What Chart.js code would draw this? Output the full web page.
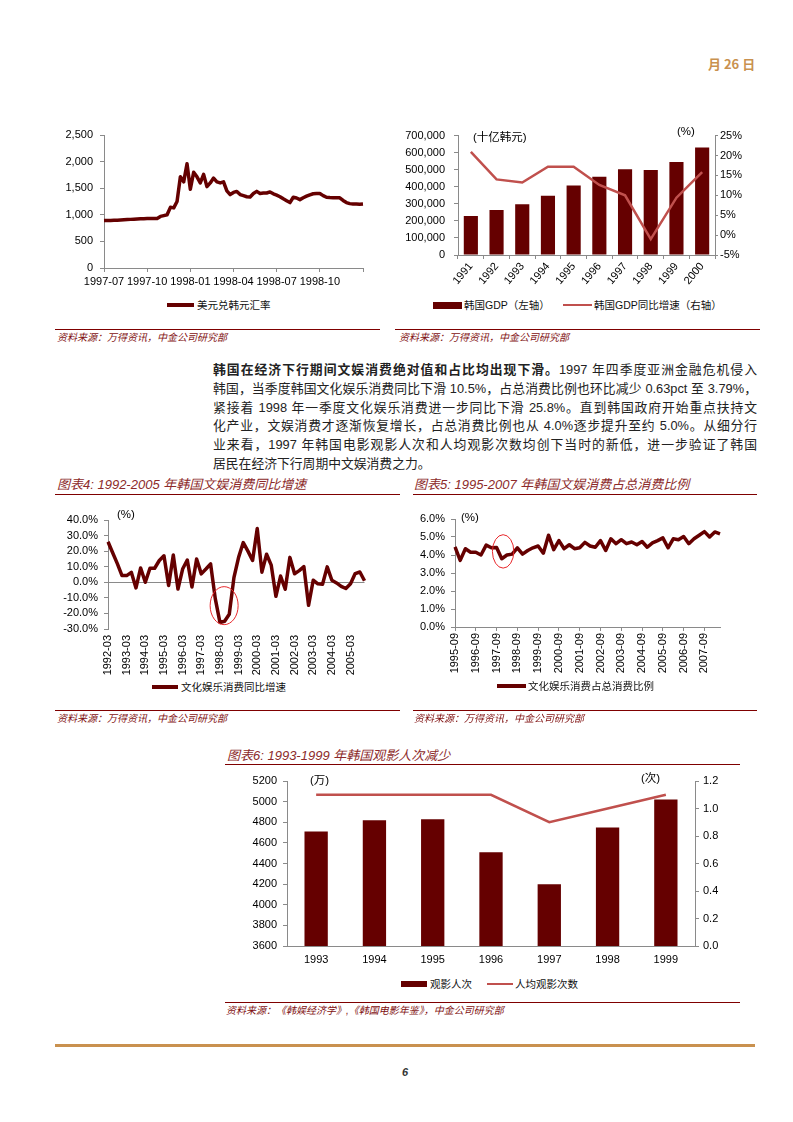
<!DOCTYPE html>
<html>
<head>
<meta charset="utf-8">
<script src="https://cdn.jsdelivr.net/npm/chart.js@4.4.1/dist/chart.umd.min.js"></script>
<style>
  body { margin: 0; background: #fff; }
  #page { position: relative; width: 793px; height: 1122px; overflow: hidden; background: #fff;
          font-family: 'Liberation Sans', 'Noto Sans CJK SC', sans-serif; }
  .t { position: absolute; line-height: 1; white-space: nowrap; transform: translateY(-50%); }
  .box { position: absolute; }
  .box canvas { display: block; }
  .rule { position: absolute; height: 0; border-top: 1px solid #7f0000; }
  .ttl { font-size: 13px; font-style: italic; color: #8c2a2a; }
  .src { font-size: 10px; font-style: italic; color: #7f1010; }
  .lg { font-size: 10.5px; color: #111; }
  .ann { font-size: 11px; color: #000; }
  .para { position: absolute; left: 213px; width: 544px; font-size: 12.8px; color: #222; line-height: 1;
          text-align: justify; text-align-last: justify; transform: translateY(-50%); }
</style>
</head>
<body>
<div id="page"></div>
<script>
// ---- data ----
// USD/KRW, roughly weekly from 1997-07 to end of 1998
const fxTicks = ['1997-07', '1997-10', '1998-01', '1998-04', '1998-07', '1998-10'];
const fxRate = [891, 893, 895, 897, 899, 902, 906, 910, 914, 918, 922, 925, 927,
  929, 930, 930, 932, 970, 985, 1000, 1140, 1130, 1250, 1714, 1620, 1960,
  1480, 1800, 1714, 1600, 1760, 1530, 1600, 1690, 1620, 1600, 1620, 1450, 1380,
  1420, 1440, 1380, 1360, 1340, 1335, 1400, 1440, 1400, 1410, 1410, 1430, 1395,
  1370, 1340, 1300, 1265, 1230, 1330, 1315, 1285, 1320, 1350, 1375, 1395, 1400,
  1400, 1360, 1330, 1325, 1322, 1320, 1320, 1270, 1230, 1210, 1205, 1205, 1200, 1205];

const gdpYears = ['1991', '1992', '1993', '1994', '1995', '1996', '1997', '1998', '1999', '2000'];
const gdpValue = [229000, 264000, 297000, 347000, 407000, 459000, 502000, 498000, 545000, 630000];
const gdpGrowth = [20.9, 14.0, 13.2, 17.2, 17.2, 12.6, 10.0, -1.0, 9.4, 15.8];

const entYears = [1992, 1993, 1994, 1995, 1996, 1997, 1998, 1999, 2000, 2001, 2002, 2003, 2004, 2005];
const quarterMonths = ['03', '06', '09', '12'];
const entGrowth = [26, 19, 12, 4.3, 4.3, 6.4, -3.6, 9.2, 0, 9, 9, 14, 17, -2, 17.5, -4.3,
  8.5, 14.3, -3, 15, 5.4, 8.5, 11.8, -10.5, -25.8, -25, -20.5, 3, 16, 25.5, 20, 14,
  34.5, 6.5, 18, 11, -9, 4, -4.5, 16, 5.5, 7.5, 10, -14.8, 1.3, -1, -1.3, 9.9,
  1.3, -0.4, -2.6, -4, -1, 5.6, 6.6, 1];

const shareStartYear = 1995;
const shareShare = [4.45, 3.7, 4.35, 4.15, 4.15, 4.0, 4.55, 4.4, 4.42, 3.79, 4.0, 4.05, 4.4,
  4.05, 4.25, 4.4, 4.5, 4.1, 5.1, 4.3, 4.8, 4.35, 4.57, 4.35, 4.4, 4.7, 4.5, 4.43,
  4.8, 4.25, 4.9, 4.63, 4.85, 4.63, 4.72, 4.57, 4.75, 4.43, 4.67, 4.8, 4.95, 4.4,
  4.9, 4.85, 5.03, 4.63, 4.9, 5.1, 5.3, 5.0, 5.28, 5.17];

const movieYears = ['1993', '1994', '1995', '1996', '1997', '1998', '1999'];
const movieAdmissions = [4710, 4820, 4830, 4510, 4200, 4750, 5020];
const moviePerCapita = [1.1, 1.1, 1.1, 1.1, 0.9, 1.0, 1.1];

// ---- page helpers ----
const MAROON = '#650000';
const LIGHTRED = '#c0504d';
const AXIS = '#8a8a8a';
const page = document.getElementById('page');

Chart.defaults.font.family = "'Liberation Sans', 'Noto Sans CJK SC', sans-serif";
Chart.defaults.font.size = 11;
Chart.defaults.color = '#000';

function text(s, x, y, cls, css) {
  const d = document.createElement('div');
  d.className = 't ' + (cls || '');
  d.style.left = x + 'px';
  d.style.top = y + 'px';
  if (css) d.style.cssText += css;
  d.innerHTML = s;
  page.appendChild(d);
}
function rule(x1, x2, y, css) {
  const d = document.createElement('div');
  d.className = 'rule';
  d.style.left = x1 + 'px';
  d.style.width = (x2 - x1) + 'px';
  d.style.top = y + 'px';
  if (css) d.style.cssText += css;
  page.appendChild(d);
}
function swatch(x, y, w, h, color) {
  const d = document.createElement('div');
  d.style.cssText = `position:absolute;left:${x}px;top:${y - h / 2}px;width:${w}px;height:${h}px;background:${color}`;
  page.appendChild(d);
}
function canvasAt(left, top, w, h) {
  const box = document.createElement('div');
  box.className = 'box';
  box.style.cssText = `left:${left}px;top:${top}px;width:${w}px;height:${h}px`;
  const c = document.createElement('canvas');
  c.width = w; c.height = h;
  box.appendChild(c);
  page.appendChild(box);
  return c;
}

// red ring used in charts 4 and 5
const ringPlugin = {
  id: 'ring',
  afterDatasetsDraw(chart, args, o) {
    if (!o || !o.at) return;
    const ctx = chart.ctx;
    const x = chart.scales.x.getPixelForValue(o.at[0]);
    const y = chart.scales.y.getPixelForValue(o.at[1]);
    ctx.save();
    ctx.beginPath();
    ctx.ellipse(x, y, o.rx, o.ry, 0, 0, Math.PI * 2);
    ctx.strokeStyle = '#e8262a';
    ctx.lineWidth = 1;
    ctx.stroke();
    ctx.restore();
  }
};

const noPlugins = { legend: { display: false }, tooltip: { enabled: false } };

// header / footer
text('月 26 日', 708, 63, '', 'font-size:13px;font-weight:bold;color:#c9914f;font-family:"Noto Sans CJK SC"');
rule(55, 755, 1044, 'border-top:3px solid #c9914f');
text('6', 402, 1072, '', 'font-size:11px;font-weight:bold;font-style:italic;color:#333');

// ---- chart 1: exchange rate ----
new Chart(canvasAt(50, 120, 330, 175), {
  type: 'line',
  data: {
    labels: fxRate.map((_, i) => i),
    datasets: [{ data: fxRate, borderColor: MAROON, borderWidth: 3.5, pointRadius: 0,
                 borderJoinStyle: 'round', tension: 0 }]
  },
  options: {
    responsive: false, animation: false, plugins: noPlugins,
    layout: { padding: { top: 15, right: 17, left: 0, bottom: 0 } },
    scales: {
      x: {
        grid: { drawOnChartArea: false, tickLength: 4, color: AXIS },
        border: { color: AXIS },
        ticks: { autoSkip: false, maxRotation: 0, padding: 3,
                 callback: (v, i) => i % 13 === 0 ? (fxTicks[i / 13] ?? '') : null },
        afterFit: s => { s.height = 27; }
      },
      y: {
        min: 0, max: 2500,
        grid: { drawOnChartArea: false, tickLength: 4, color: AXIS },
        border: { color: AXIS },
        ticks: { stepSize: 500, padding: 7, autoSkip: false, callback: v => v.toLocaleString('en-US') },
        afterFit: s => { s.width = 54; }
      }
    }
  }
});
swatch(167, 305, 27, 4, MAROON);
text('美元兑韩元汇率', 197, 305, 'lg');
rule(55, 380, 329);
text('资料来源：万得资讯，中金公司研究部', 57, 338, 'src');

// ---- chart 2: GDP ----
new Chart(canvasAt(395, 120, 365, 175), {
  data: {
    labels: gdpYears,
    datasets: [
      { type: 'line', data: gdpGrowth, yAxisID: 'y2', borderColor: LIGHTRED, borderWidth: 2.5,
        pointRadius: 0, tension: 0, order: 0 },
      { type: 'bar', data: gdpValue, yAxisID: 'y', backgroundColor: MAROON,
        barPercentage: 0.55, categoryPercentage: 1, order: 1 }
    ]
  },
  options: {
    responsive: false, animation: false, plugins: noPlugins,
    layout: { padding: { top: 15, right: 0, left: 0, bottom: 0 } },
    scales: {
      x: {
        grid: { drawOnChartArea: false, tickLength: 4, color: AXIS },
        border: { color: AXIS },
        ticks: { autoSkip: false, minRotation: 50, maxRotation: 50, padding: 1 },
        afterFit: s => { s.height = 40; }
      },
      y: {
        position: 'left', min: 0, max: 700000,
        grid: { drawOnChartArea: false, tickLength: 4, color: AXIS },
        border: { color: AXIS },
        ticks: { stepSize: 100000, padding: 9, autoSkip: false, callback: v => v.toLocaleString('en-US') },
        afterFit: s => { s.width = 63; }
      },
      y2: {
        position: 'right', min: -5, max: 25,
        grid: { drawOnChartArea: false, tickLength: 3, color: AXIS },
        border: { color: AXIS },
        ticks: { stepSize: 5, padding: 2, autoSkip: false, callback: v => v + '%' },
        afterFit: s => { s.width = 45; }
      }
    }
  }
});
text('(十亿韩元)', 473, 138, 'ann', 'font-size:11.5px');
text('(%)', 677, 132, 'ann', 'font-size:11.5px');
swatch(433, 305, 29, 7, MAROON);
text('韩国GDP（左轴）', 464, 305, 'lg');
swatch(563, 305, 29, 2.5, LIGHTRED);
text('韩国GDP同比增速（右轴）', 594, 305, 'lg');
rule(395, 760, 329);
text('资料来源：万得资讯，中金公司研究部', 399, 338, 'src');

// ---- paragraph ----
const paraLines = [
  '<b>韩国在经济下行期间文娱消费绝对值和占比均出现下滑。</b>1997 年四季度亚洲金融危机侵入',
  '韩国，当季度韩国文化娱乐消费同比下滑 10.5%，占总消费比例也环比减少 0.63pct 至 3.79%，',
  '紧接着 1998 年一季度文化娱乐消费进一步同比下滑 25.8%。直到韩国政府开始重点扶持文',
  '化产业，文娱消费才逐渐恢复增长，占总消费比例也从 4.0%逐步提升至约 5.0%。从细分行',
  '业来看，1997 年韩国电影观影人次和人均观影次数均创下当时的新低，进一步验证了韩国',
  '居民在经济下行周期中文娱消费之力。'
];
paraLines.forEach((l, i) => {
  const d = document.createElement('div');
  d.className = 'para';
  d.style.top = (370 + i * 18.8) + 'px';
  if (i === paraLines.length - 1) d.style.textAlignLast = 'left';
  d.innerHTML = l;
  page.appendChild(d);
});

// ---- chart 4: entertainment spending growth ----
const entLabels = [];
entYears.forEach(y => quarterMonths.forEach(m => entLabels.push(y + '-' + m)));
text('图表4: 1992-2005 年韩国文娱消费同比增速', 57, 484, 'ttl');
rule(55, 400, 494);
new Chart(canvasAt(50, 505, 320, 175), {
  type: 'line',
  data: {
    labels: entLabels,
    datasets: [{ data: entGrowth, borderColor: MAROON, borderWidth: 3.5, pointRadius: 0,
                 borderJoinStyle: 'round', tension: 0 }]
  },
  options: {
    responsive: false, animation: false,
    plugins: { ...noPlugins, ring: { at: [24.9, -15], rx: 14, ry: 19 } },
    layout: { padding: { top: 15, right: 5, left: 0, bottom: 0 } },
    scales: {
      x: {
        grid: { display: false, drawTicks: false },
        border: { display: false },
        ticks: { autoSkip: false, minRotation: 90, maxRotation: 90, padding: 6,
                 callback: (v, i) => entLabels[i].endsWith('-03') ? entLabels[i] : null },
        afterFit: s => { s.height = 51; }
      },
      y: {
        min: -30, max: 40,
        grid: { drawOnChartArea: true, tickLength: 4, tickColor: AXIS,
                color: c => c.tick.value === 0 ? AXIS : 'rgba(0,0,0,0)' },
        border: { color: AXIS },
        ticks: { stepSize: 10, padding: 6, autoSkip: false, callback: v => v.toFixed(1) + '%' },
        afterFit: s => { s.width = 58; }
      }
    }
  },
  plugins: [ringPlugin]
});
text('(%)', 117, 515, 'ann', 'font-size:11.5px');
swatch(152, 687, 26, 4, MAROON);
text('文化娱乐消费同比增速', 181, 687, 'lg');
rule(55, 400, 710);
text('资料来源：万得资讯，中金公司研究部', 57, 719, 'src');

// ---- chart 5: entertainment share of consumption ----
const shareLabels = shareShare.map((_, i) => {
  const k = 2 + i;
  return (shareStartYear + Math.floor(k / 4)) + '-' + quarterMonths[k % 4];
});
text('图表5: 1995-2007 年韩国文娱消费占总消费比例', 414, 484, 'ttl');
rule(413, 757, 494);
new Chart(canvasAt(395, 505, 330, 175), {
  type: 'line',
  data: {
    labels: shareLabels,
    datasets: [{ data: shareShare, borderColor: MAROON, borderWidth: 3.5, pointRadius: 0,
                 borderJoinStyle: 'round', tension: 0 }]
  },
  options: {
    responsive: false, animation: false,
    plugins: { ...noPlugins, ring: { at: [9.26, 4.2], rx: 10.7, ry: 16.7 } },
    layout: { padding: { top: 14, right: 5, left: 0, bottom: 0 } },
    scales: {
      x: {
        grid: { drawOnChartArea: false, tickLength: 4, color: AXIS },
        border: { color: AXIS },
        ticks: { autoSkip: false, minRotation: 90, maxRotation: 90, padding: 2,
                 callback: (v, i) => shareLabels[i].endsWith('-09') ? shareLabels[i] : null },
        afterFit: s => { s.height = 53; }
      },
      y: {
        min: 0, max: 6,
        grid: { drawOnChartArea: false, tickLength: 4, color: AXIS },
        border: { color: AXIS },
        ticks: { stepSize: 1, padding: 6, autoSkip: false, callback: v => v.toFixed(1) + '%' },
        afterFit: s => { s.width = 60; }
      }
    }
  },
  plugins: [ringPlugin]
});
text('(%)', 461, 518, 'ann', 'font-size:11.5px');
swatch(497, 686, 29, 4, MAROON);
text('文化娱乐消费占总消费比例', 528, 686, 'lg');
rule(413, 757, 710);
text('资料来源：万得资讯，中金公司研究部', 414, 719, 'src');

// ---- chart 6: cinema admissions ----
text('图表6: 1993-1999 年韩国观影人次减少', 227, 755, 'ttl');
rule(225, 740, 764);
new Chart(canvasAt(225, 765, 515, 210), {
  data: {
    labels: movieYears,
    datasets: [
      { type: 'line', data: moviePerCapita, yAxisID: 'y2', borderColor: LIGHTRED, borderWidth: 2.5,
        pointRadius: 0, tension: 0, order: 0 },
      { type: 'bar', data: movieAdmissions, yAxisID: 'y', backgroundColor: MAROON,
        barPercentage: 0.4, categoryPercentage: 1, order: 1 }
    ]
  },
  options: {
    responsive: false, animation: false, plugins: noPlugins,
    layout: { padding: { top: 16, right: 0, left: 0, bottom: 0 } },
    scales: {
      x: {
        grid: { drawOnChartArea: false, drawTicks: false, color: AXIS },
        border: { color: AXIS },
        ticks: { autoSkip: false, maxRotation: 0, padding: 7 },
        afterFit: s => { s.height = 29; }
      },
      y: {
        position: 'left', min: 3600, max: 5200,
        grid: { drawOnChartArea: false, tickLength: 4, color: AXIS },
        border: { color: AXIS },
        ticks: { stepSize: 200, padding: 6, autoSkip: false, callback: v => String(v) },
        afterFit: s => { s.width = 62; }
      },
      y2: {
        position: 'right', min: 0, max: 1.2,
        grid: { drawOnChartArea: false, tickLength: 4, color: AXIS },
        border: { color: AXIS },
        ticks: { stepSize: 0.2, padding: 4, autoSkip: false, callback: v => v.toFixed(1) },
        afterFit: s => { s.width = 45; }
      }
    }
  }
});
text('(万)', 310, 781, 'ann', 'font-size:11.5px');
text('(次)', 641, 779, 'ann', 'font-size:11.5px');
swatch(401, 984, 26, 6, MAROON);
text('观影人次', 430, 984, 'lg');
swatch(487, 984, 26, 2.5, LIGHTRED);
text('人均观影次数', 515, 984, 'lg');
rule(225, 740, 1002);
text('资料来源：《韩娱经济学》,《韩国电影年鉴》，中金公司研究部', 226, 1011, 'src');
</script>
</body>
</html>
